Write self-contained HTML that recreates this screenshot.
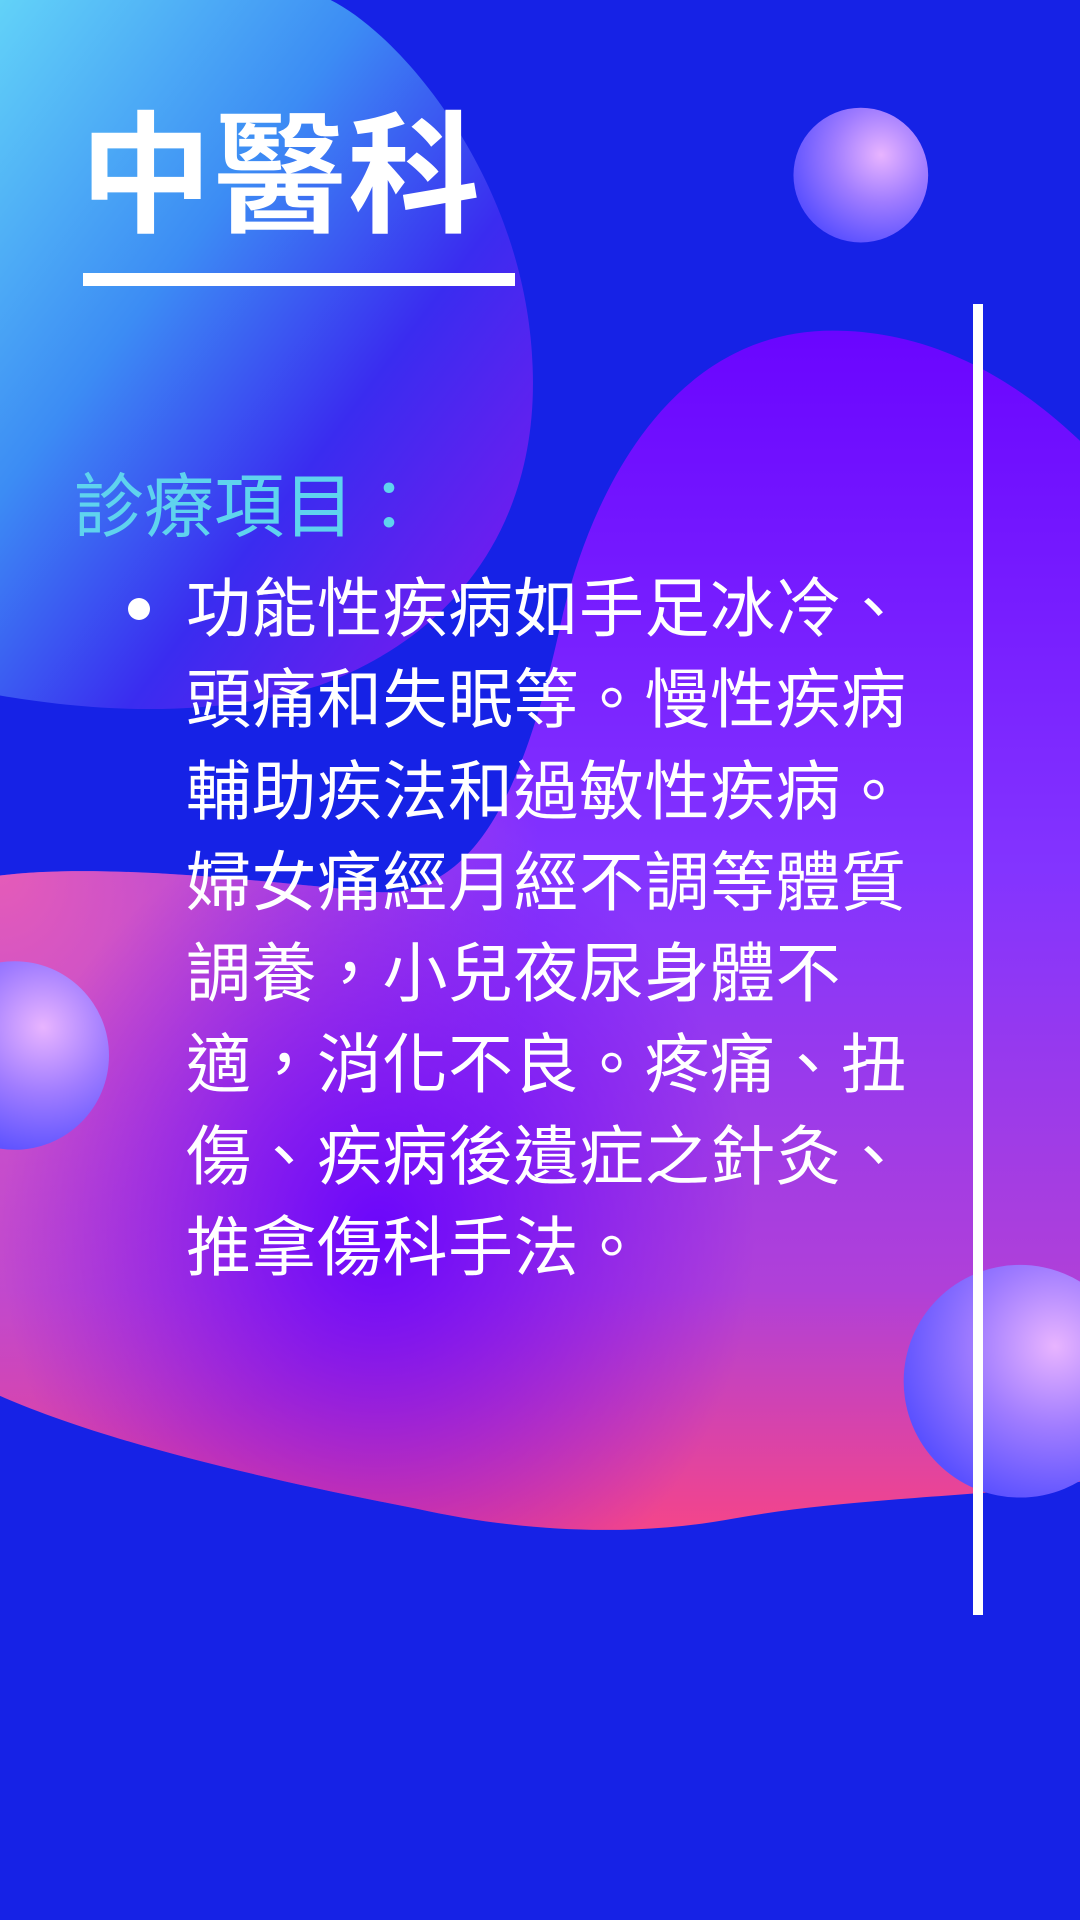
<!DOCTYPE html>
<html><head><meta charset="utf-8">
<style>
html,body{margin:0;padding:0}
body{width:1080px;height:1920px;position:relative;overflow:hidden;background:#1622e6;font-family:"Liberation Sans","Noto Sans CJK TC",sans-serif}
svg.bg{position:absolute;left:0;top:0}
.title{position:absolute;left:80px;top:92px;font-size:132px;font-weight:bold;color:#fff;letter-spacing:2px;line-height:170px}
.uline{position:absolute;left:83px;top:273px;width:432px;height:13px;background:#fff}
.vline{position:absolute;left:973px;top:304px;width:10px;height:1311px;background:#fff}
.sub{position:absolute;left:74px;top:465px;font-size:70px;color:#5fd3ee;line-height:84px}
.body{position:absolute;left:186px;top:563px;width:780px;font-size:65px;color:#fff;line-height:91.3px;letter-spacing:0.5px}
.bullet{position:absolute;left:128px;top:598px;width:22px;height:22px;border-radius:50%;background:#fff}
</style></head>
<body>
<svg class="bg" width="1080" height="1920" viewBox="0 0 882 1568">
<defs>
<linearGradient id="g1" x1="0" y1="0" x2="1" y2="1">
<stop offset="0" stop-color="#62d2f8"/><stop offset="0.35" stop-color="#3c8cf4"/><stop offset="0.62" stop-color="#3a2cf0"/><stop offset="0.85" stop-color="#6a1ef0"/><stop offset="1" stop-color="#f0409a"/>
</linearGradient>
<linearGradient id="g2" x1="0" y1="0" x2="0" y2="1">
<stop offset="0" stop-color="#6a05ff"/><stop offset="0.45" stop-color="#8334ff"/><stop offset="0.8" stop-color="#b040d8"/><stop offset="1" stop-color="#f4458a"/>
</linearGradient>
<radialGradient id="pinkL" cx="0" cy="0.45" r="0.5">
<stop offset="0" stop-color="#f060b0" stop-opacity="0.9"/><stop offset="1" stop-color="#f060b0" stop-opacity="0"/>
</radialGradient>
<radialGradient id="vio" cx="0.35" cy="0.75" r="0.35">
<stop offset="0" stop-color="#6400ff" stop-opacity="0.9"/><stop offset="1" stop-color="#6400ff" stop-opacity="0"/>
</radialGradient>
<radialGradient id="sph" cx="0.65" cy="0.35" r="0.7">
<stop offset="0" stop-color="#e8b4ff"/><stop offset="0.5" stop-color="#a07cff"/><stop offset="1" stop-color="#5a50ff"/>
</radialGradient>
</defs>
<path d="M0,0 L270,0 C330,30 430,150 435,300 C440,430 370,520 260,560 C160,590 60,578 0,568 Z" fill="url(#g1)"/>
<path d="M0,715 C80,705 200,718 300,728 C390,738 430,640 460,500 C490,380 560,270 680,270 C780,270 850,330 882,360 L882,1210 C820,1222 700,1222 600,1240 C520,1255 430,1252 340,1232 C200,1205 80,1175 0,1140 Z" fill="url(#g2)"/>
<path d="M0,715 C80,705 200,718 300,728 C390,738 430,640 460,500 C490,380 560,270 680,270 C780,270 850,330 882,360 L882,1210 C820,1222 700,1222 600,1240 C520,1255 430,1252 340,1232 C200,1205 80,1175 0,1140 Z" fill="url(#pinkL)"/>
<path d="M0,715 C80,705 200,718 300,728 C390,738 430,640 460,500 C490,380 560,270 680,270 C780,270 850,330 882,360 L882,1210 C820,1222 700,1222 600,1240 C520,1255 430,1252 340,1232 C200,1205 80,1175 0,1140 Z" fill="url(#vio)"/>
<circle cx="703" cy="143" r="55" fill="url(#sph)"/>
<circle cx="12" cy="862" r="77" fill="url(#sph)"/>
<circle cx="833" cy="1128" r="95" fill="url(#sph)"/>
</svg>
<div class="title">中醫科</div>
<div class="uline"></div>
<div class="vline"></div>
<div class="sub">診療項目：</div>
<div class="bullet"></div>
<div class="body">功能性疾病如手足冰冷、<br>頭痛和失眠等。慢性疾病<br>輔助疾法和過敏性疾病。<br>婦女痛經月經不調等體質<br>調養，小兒夜尿身體不<br>適，消化不良。疼痛、扭<br>傷、疾病後遺症之針灸、<br>推拿傷科手法。</div>
</body></html>
